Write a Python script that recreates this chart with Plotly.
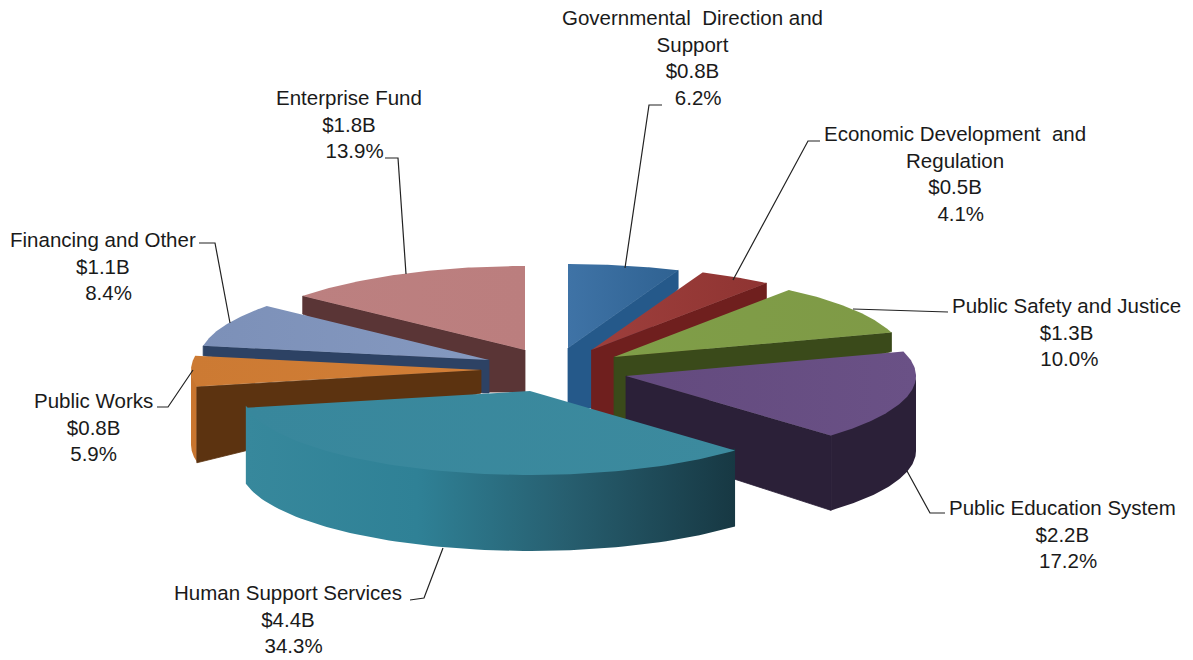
import math
import plotly.graph_objects as go

# ---- data ----
categories = ["Governmental\u00a0 Direction and<br>Support", "Economic Development\u00a0 and<br>Regulation",
              "Public Safety and Justice", "Public Education System", "Human Support Services",
              "Public Works", "Financing and Other", "Enterprise Fund"]
billions = [0.8, 0.5, 1.3, 2.2, 4.4, 0.8, 1.1, 1.8]
shares = [6.2, 4.1, 10.0, 17.2, 34.3, 5.9, 8.4, 13.9]
share_prefix = ["\u00a0 ", "\u00a0 ", "\u00a0", "\u00a0 ", "\u00a0 ", "", "\u00a0 ", "\u00a0 "]

# ---- pie projection and styling ----
RX, RY = 290, 84
apex = [(568, 348), (591.5, 350), (614, 357), (626, 376), (530, 391), (481, 370), (489, 360), (525, 350)]
cut_side = ["end", "end", "end", "end", None, "start", "start", "start"]
apex_depth = [60, 66, 62, 68, 0, 23, 33, 42]
rim_depth = [18, 17, 19, 75, 0, 76, 10, 18]
flat_run = [30, 30, 20, 0, 0, 0, 6, 42]
wall_depth = [0, 0, 0, 75, 76, 75, 0, 0]
top_left = ["#3F73A6", "#9E3F3C", "#7F9E48", "#634A7E", "#38879C", "#CC7A33", "#7C90B8", "#BC8080"]
top_right = ["#2F6292", "#8F3432", "#7F9A46", "#6A5186", "#3C8A9E", "#D27E36", "#8599C0", "#BB7E7E"]
face_col = ["#25598A", "#6F1F1E", "#3A4A1A", "#2B2038", "#000000", "#5C3310", "#2D4264", "#5A3536"]
wall_stops = {3: [[0, "#2B2038"], [1, "#2B2038"]],
              4: [[0, "#37889C"], [0.35, "#2F8196"], [0.65, "#275F70"], [1, "#173843"]],
              5: [[0, "#C8752F"], [1, "#C8752F"]]}
draw_order = [7, 0, 1, 2, 6, 5, 3, 4]

label_xy = [(692, 57), (955, 173), (1066, 332), (1062, 534), (288, 619), (93, 427), (103, 266), (349, 124)]
leaders = [[(662, 105), (649, 105), (625, 268)],
           [(820, 141), (808, 141), (733, 280)],
           [(948, 312), (853, 309)],
           [(945, 513), (930, 513), (907, 471)],
           [(410, 600), (424, 598), (443, 548)],
           [(157, 407), (168, 407), (193, 370)],
           [(199, 243), (215, 243), (230, 323)],
           [(385, 158), (398, 158), (406, 274)]]
TEXT = "#1a1a1a"
FONT = "Liberation Sans, Arial, sans-serif"

# ---- geometry derived from the shares ----
total = sum(shares)
cum, edges = 0.0, []
for s in shares:
    edges.append((cum / total * 360, (cum + s) / total * 360))
    cum += s


def rim_point(i, deg, drop=0.0):
    a = math.radians(deg)
    return apex[i][0] + RX * math.sin(a), apex[i][1] - RY * math.cos(a) + drop


def arc(i, start, stop, drop=0.0, n=80):
    return [rim_point(i, start + (stop - start) * k / n, drop) for k in range(n + 1)]


def poly(points, edge=None, **kw):
    xs = [p[0] for p in points] + [points[0][0]]
    ys = [p[1] for p in points] + [points[0][1]]
    line = dict(width=0.8, color=edge) if edge else dict(width=0)
    return go.Scatter(x=xs, y=ys, mode="lines", fill="toself", line=line,
                      hoverinfo="skip", showlegend=False, **kw)


fig = go.Figure()
for i in draw_order:
    a0, a1 = edges[i]
    if wall_depth[i]:
        w0, w1 = max(a0, 90), min(a1, 270)   # only the front half of the rim is seen
        pts = arc(i, w0, w1, -2) + arc(i, w1, w0, wall_depth[i])
        fig.add_trace(poly(pts, fillgradient=dict(type="horizontal", colorscale=wall_stops[i])))
    if cut_side[i]:
        ang = a1 if cut_side[i] == "end" else a0
        p = rim_point(i, ang)
        q = rim_point(i, ang, rim_depth[i])
        toward = 1 if p[0] > apex[i][0] else -1
        low = apex[i][1] + apex_depth[i]
        pts = [apex[i], p, q, (apex[i][0] + toward * flat_run[i], low), (apex[i][0], low)]
        fig.add_trace(poly(pts, edge=face_col[i], fillcolor=face_col[i]))
    pts = [apex[i]] + arc(i, a0, a1)
    fig.add_trace(poly(pts, fillgradient=dict(type="horizontal",
                                              colorscale=[[0, top_left[i]], [1, top_right[i]]])))

for path in leaders:
    fig.add_trace(go.Scatter(x=[p[0] for p in path], y=[p[1] for p in path], mode="lines",
                             line=dict(color="#222222", width=1.2), hoverinfo="skip", showlegend=False))

annotations = []
for i, name in enumerate(categories):
    text = f"{name}<br>${billions[i]:.1f}B<br>{share_prefix[i]}{shares[i]:.1f}%"
    annotations.append(dict(x=label_xy[i][0], y=label_xy[i][1], xref="x", yref="y", text=text,
                            showarrow=False, align="center", xanchor="center", yanchor="middle",
                            font=dict(family=FONT, size=20.5, color=TEXT)))

fig.update_layout(width=1193, height=660, margin=dict(l=0, r=0, t=0, b=0),
                  paper_bgcolor="white", plot_bgcolor="white", showlegend=False,
                  xaxis=dict(range=[0, 1193], visible=False, fixedrange=True),
                  yaxis=dict(range=[660, 0], visible=False, fixedrange=True),
                  annotations=annotations)
fig.write_html("out.html", config={"displayModeBar": False},
               post_script="document.body.style.margin='0';document.documentElement.style.overflow='hidden';")
